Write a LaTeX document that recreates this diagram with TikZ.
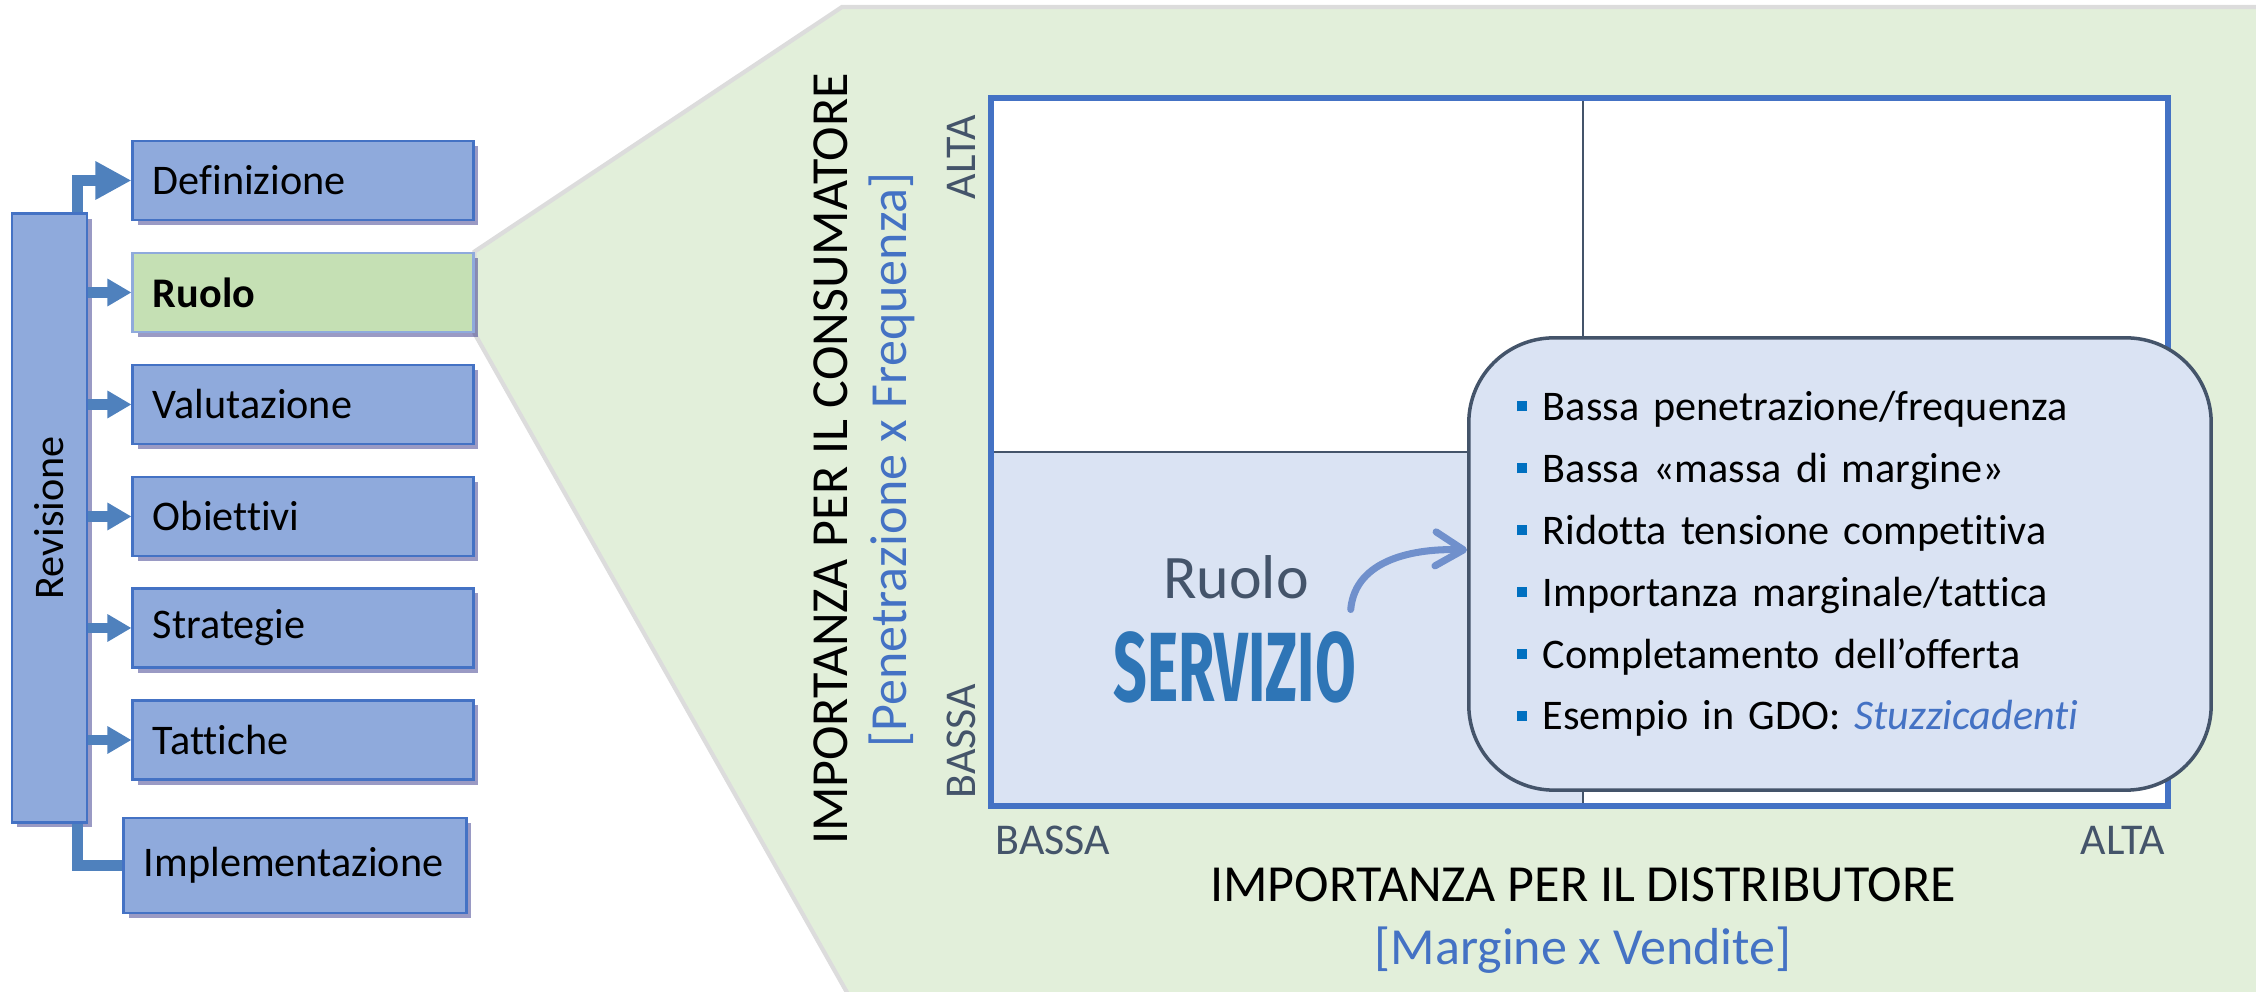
\documentclass[tikz,border=0pt]{standalone}
\usepackage{fontspec}
\setmainfont{Carlito}[Ligatures = NoCommon]
\newfontfamily\condfont{Fira Sans}
\usetikzlibrary{
    arrows.meta,
    shadows,
    backgrounds,
    positioning
}
\definecolor{boxblue}{HTML}{8FAADC}
\definecolor{boxedge}{HTML}{4472C4}
\definecolor{boxgreen}{HTML}{C5E0B4}
\definecolor{panelgreen}{HTML}{E2EFDA}
\definecolor{paneledge}{HTML}{DCDCDC}
\definecolor{shadowblue}{HTML}{35358A}
\definecolor{arrowblue}{HTML}{4F81BD}
\definecolor{cellblue}{HTML}{DAE3F3}
\definecolor{slate}{HTML}{44546A}
\definecolor{noteblue}{HTML}{4472C4}
\definecolor{servblue}{HTML}{2E75B6}
\definecolor{bulletblue}{HTML}{0070C0}
\definecolor{curveblue}{HTML}{7090CC}

\newcommand{\sqbullet}{{\color{bulletblue}\rule[0.45ex]{0.1cm}{0.1cm}}\hspace{0.16cm}}

\tikzset {
    soft shadow/.style = {
        drop shadow={fill=shadowblue,opacity=0.5,shadow xshift=0.05cm,shadow yshift=-0.05cm}
    },
    phase box/.style = {
        draw = boxedge,
        fill = boxblue,
        line width = 0.8pt,
        minimum height = 0.79cm,
        text width = 3cm,
        inner xsep = 0.2cm,
        align = left,
        font = \fontsize{12}{14}\selectfont,
        soft shadow
    },
    current box/.style = {
        phase box,
        fill = boxgreen,
        draw = boxblue,
        font = \fontsize{12}{14}\selectfont\bfseries
    },
    side bar/.style = {
        draw = boxedge,
        fill = boxblue,
        line width = 0.8pt,
        minimum width = 0.75cm,
        minimum height = 6.08cm,
        inner sep = 0pt,
        font = \fontsize{12}{14}\selectfont,
        soft shadow
    },
    flow line/.style = {draw = arrowblue, line width = 3pt},
    flow arrow/.style = {flow line, -{Triangle[length = 0.24cm 0 0, width = 0.26cm]}},
    big flow arrow/.style = {flow line, -{Triangle[length = 0.36cm 0 0, width = 0.36cm]}},
    %
    axis title/.style = {inner sep = 0pt, font = \fontsize{14.8}{16}\selectfont},
    axis note/.style = {inner sep = 0pt, text = noteblue, font = \fontsize{14.8}{16}\selectfont},
    scale text/.style = {inner sep = 0pt, text = slate, font = \fontsize{12.5}{14}\selectfont},
    note box/.style = {
        draw = slate,
        line width = 1pt,
        fill = cellblue,
        rounded corners = 0.85cm,
        minimum width = 7.42cm,
        minimum height = 4.52cm,
        text width = 6.46cm,
        inner xsep = 0.48cm,
        align = left,
        font = \fontsize{12}{17.6}\selectfont
    },
    bend arrow/.style = {
        draw = curveblue,
        line width = 2pt,
        line cap = round,
        -{Straight Barb[round, length = 0.28cm 0 0, width = 0.34cm]}
    }
}

\begin{document}
\begin{tikzpicture}[x = 0.01cm, y = -0.01cm]
    \useasboundingbox (0, 0) rectangle (2256, 992);

    % process steps
    \node [side bar] (rev) at (49.5, 518) {\rotatebox{90}{Revisione}};
    \node [phase box] (def) at (303, 180.5) {Definizione};
    \node [current box] (ruolo) at (303, 292.5) {Ruolo};
    \node [phase box] (valut) at (303, 404.5) {Valutazione};
    \node [phase box] (obiet) at (303, 516.5) {Obiettivi};
    \node [phase box] (strat) at (303, 628) {Strategie};
    \node [phase box] (tatt) at (303, 740) {Tattiche};
    \node [phase box, text width = 3.02cm, minimum height = 0.95cm] (impl) at (295, 865.5) {Implementazione};

    \draw [big flow arrow] ([xshift = -0.11cm]rev.north east) |- (def.west);
    \foreach \step in {ruolo, valut, obiet, strat, tatt}
        \draw [flow arrow] (rev.east |- \step.west) -- (\step.west);
    \draw [flow line] ([xshift = -0.11cm]rev.south east) |- (impl.west);

    % zoom panel
    \begin{scope}[on background layer]
        \draw [fill = panelgreen, draw = paneledge, line width = 1.2pt]
            (ruolo.north east) -- (842, 7) -- (2260, 7) -- (2260, 996)
            -- (849, 996) -- (ruolo.south east) -- cycle;
    \end{scope}

    % matrix
    \coordinate (m nw) at (991, 98);
    \coordinate (m se) at (2168, 806);
    \coordinate (m c) at (1583, 452);
    \fill [white] (m nw) rectangle (m se);
    \fill [cellblue] (m nw |- m c) rectangle (m c |- m se);
    \draw [slate, line width = 0.6pt] (m c |- m nw) -- (m c |- m se);
    \draw [slate, line width = 0.6pt] (m nw |- m c) -- (m se |- m c);
    \draw [noteblue, line width = 1.7pt] (m nw) rectangle (m se);

    \node [axis title, rotate = 90] (cons title) at (831, 459) {IMPORTANZA PER IL CONSUMATORE};
    \node [axis note, rotate = 90] (cons note) at (892, 460) {[Penetrazione x Frequenza]};
    \node [scale text, rotate = 90] (y high) at (961, 157) {ALTA};
    \node [scale text, rotate = 90] (y low) at (961, 741) {BASSA};
    \node [scale text] (x low) at (1053, 840) {BASSA};
    \node [scale text] (x high) at (2123, 840) {ALTA};
    \node [axis title] (dist title) at (1583, 885) {IMPORTANZA PER IL DISTRIBUTORE};
    \node [axis note] (dist note) at (1583, 950) {[Margine x Vendite]};

    % role
    \node [inner sep = 0pt, text = slate, font = \fontsize{17.6}{20}\selectfont] (role name) at (1236, 577) {Ruolo};
    \node [inner sep = 0pt, text = servblue, font = \fontsize{28}{30}\condfont\bfseries] (servizio) at (1235, 667)
        {\scalebox{0.6}[1]{SERVIZIO}};

    \node [note box] (notes) at (1840, 564) {
        \sqbullet Bassa penetrazione/frequenza\\
        \sqbullet Bassa «massa di margine»\\
        \sqbullet Ridotta tensione competitiva\\
        \sqbullet Importanza marginale/tattica\\
        \sqbullet Completamento dell’offerta\\
        \sqbullet Esempio in GDO: {\color{noteblue}\itshape Stuzzicadenti}
    };

    \draw [bend arrow] ([xshift = -0.06cm, yshift = 0.21cm]servizio.north east)
        to [out = 85, in = 178] ([yshift = 0.14cm]notes.west);
\end{tikzpicture}
\end{document}
